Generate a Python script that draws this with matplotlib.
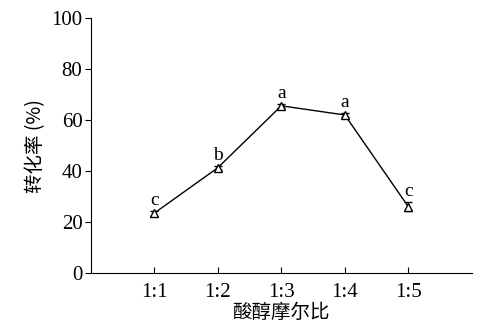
import matplotlib
matplotlib.use("Agg")
import matplotlib.pyplot as plt

ratios = ["1:1", "1:2", "1:3", "1:4", "1:5"]
conversion = [23.5, 41.3, 65.6, 62.0, 26.0]
errors = [1.0, 0.8, 0.8, 0.8, 1.8]
letters = ["c", "b", "a", "a", "c"]


def main():
    plt.rcParams['font.family'] = ['Liberation Serif', 'Noto Sans CJK SC']
    fig = plt.figure(figsize=(4.88, 3.29), dpi=100)
    ax = fig.add_axes([0.186, 0.170, 0.781, 0.775])
    xs = list(range(1, len(ratios) + 1))
    ax.errorbar(xs, conversion, yerr=errors, color='black', lw=1,
                marker='^', markersize=6, markerfacecolor='white',
                markeredgewidth=1, capsize=3, elinewidth=1)
    for x, y, e, t in zip(xs, conversion, errors, letters):
        ax.text(x, y + e + 0.8, t, ha='center', va='bottom', fontsize=14)
    ax.set_xlim(0, 6)
    ax.set_ylim(0, 100)
    ax.set_xticks(xs)
    ax.set_xticklabels(ratios)
    ax.set_yticks(range(0, 101, 20))
    ax.spines['top'].set_visible(False)
    ax.spines['right'].set_visible(False)
    ax.tick_params(axis='x', direction='in', length=4, labelsize=15, pad=7)
    ax.tick_params(axis='y', direction='out', length=4, labelsize=15, pad=2)
    ax.set_xlabel("酸醇摩尔比", fontsize=14, family=['Noto Sans CJK SC'],
                  labelpad=0)
    ax.set_ylabel("转化率 (%)", fontsize=14,
                  family=['Noto Sans CJK SC', 'Liberation Serif'], labelpad=4)
    fig.savefig("out.png", dpi=100)


if __name__ == "__main__":
    main()
